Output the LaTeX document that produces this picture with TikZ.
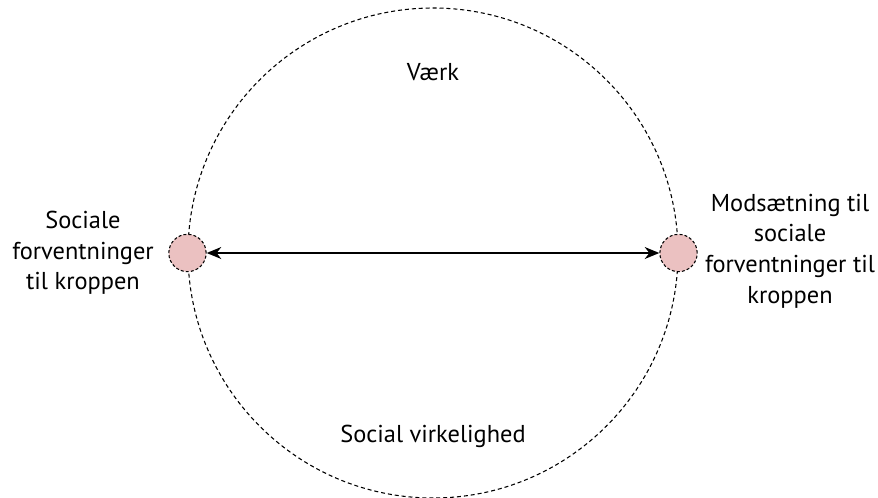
\documentclass[tikz,border=0pt]{standalone}
\usepackage{fontspec}
\setmainfont{PT Sans}
\usepackage{xcolor}
\usepackage{tikz}
\usetikzlibrary{arrows.meta, positioning}

\definecolor{dotpink}{HTML}{EBC1C1}

\begin{document}
\begin{tikzpicture}[
    x=0.75pt, y=-0.75pt,
    ring/.style={draw, circle, dash pattern=on 3pt off 2.2pt, line width=0.8pt,
                 minimum size=367.5pt, inner sep=0pt},
    dot/.style={draw, circle, fill=dotpink, dash pattern=on 2.2pt off 1.6pt,
                line width=0.8pt, minimum size=28pt, inner sep=0pt},
    arrow/.style={{Stealth[length=11pt, width=9pt]}-{Stealth[length=11pt, width=9pt]}, line width=1.1pt},
    txt/.style={align=center, font=\fontsize{18.3}{23}\selectfont, inner sep=1pt},
]
\useasboundingbox (0,0) rectangle (878,497);

% Outer circle and the two poles
\node[ring] (world) at (433,253) {};
\node[dot] (expect) at (world.west) {};
\node[dot] (oppose) at (world.east) {};

\draw[arrow] (expect) -- (oppose);

% Texts
\node[txt] (werk) at (433,72) {Værk};
\node[txt] (reality) at (433,436) {Social virkelighed};
\node[txt] (expecttxt) at (83,253) {Sociale\\forventninger\\til kroppen};
\node[txt] (opposetxt) at (790,251) {Modsætning til\\sociale\\forventninger til\\kroppen};

\end{tikzpicture}
\end{document}
